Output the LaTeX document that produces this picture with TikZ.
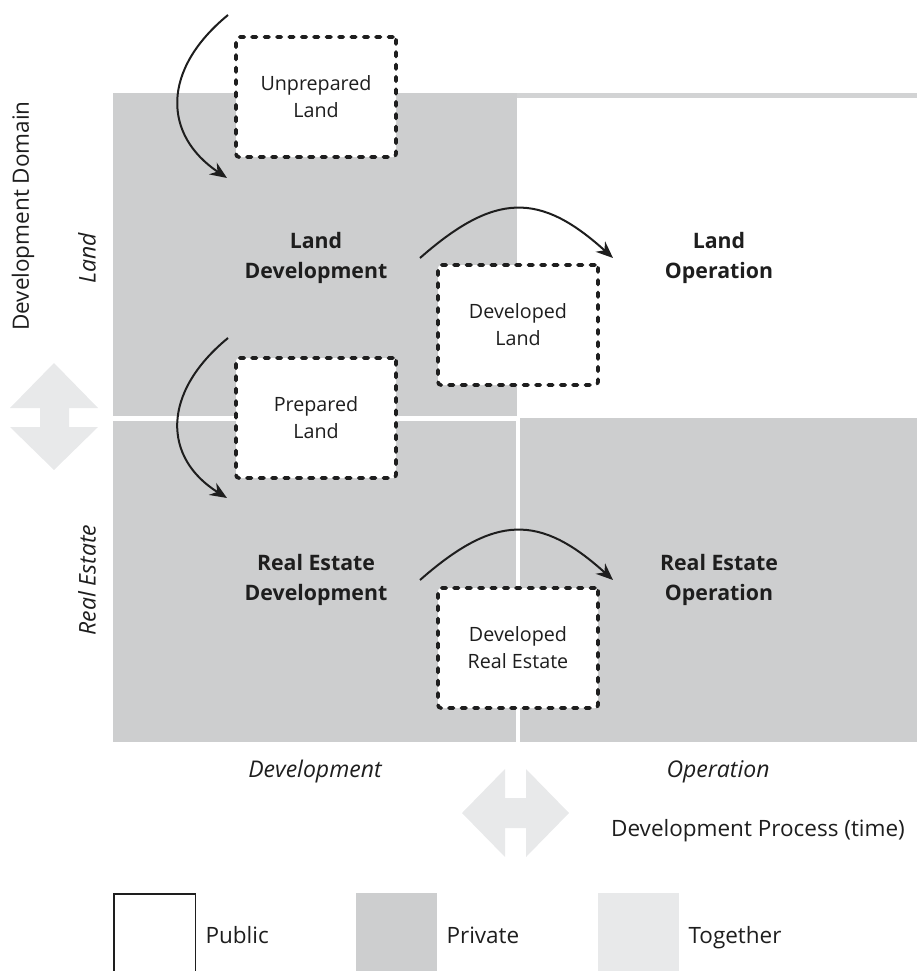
\documentclass[tikz,border=0pt]{standalone}
\usepackage{fontspec}
\setmainfont{Open Sans}
\usetikzlibrary{arrows.meta}
\definecolor{priv}{HTML}{CDCECF}
\definecolor{tog}{HTML}{E8E9EA}
\definecolor{ink}{HTML}{1E1E1E}
\begin{document}
\begin{tikzpicture}[x=1pt,y=-1pt,
  dbox/.style={draw=ink,fill=white,line width=3.6pt,dash pattern=on 4.6pt off 7.8pt,line cap=round,rounded corners=3pt,minimum width=160pt,minimum height=120pt,align=center,font=\fontsize{19.7}{27}\selectfont,text=ink},
  bold/.style={align=center,font=\fontsize{21.3}{30}\selectfont\bfseries,text=ink},
  ital/.style={font=\fontsize{23}{27}\selectfont\itshape,text=ink},
  plain/.style={font=\fontsize{22.5}{27}\selectfont,text=ink},
  flow/.style={draw=ink,line width=2pt,-{Stealth[length=17pt,width=14pt]}}]
\useasboundingbox (0,0) rectangle (917,971);
% quadrants
\fill[priv] (113,93) rectangle (517,416);
\fill[priv] (113,421) rectangle (516,742);
\fill[priv] (520,418) rectangle (917,742);
\fill[priv!90!white] (517,93) rectangle (917,98);
% together arrows
\fill[tog] (54,363) -- (98,408) -- (69,408) -- (69,427) -- (98,427) -- (54,470) -- (10,427) -- (40,427) -- (40,408) -- (10,408) -- cycle;
\fill[tog] (462,813) -- (505,769) -- (505,798) -- (526,798) -- (526,769) -- (569,813) -- (526,857) -- (526,828) -- (505,828) -- (505,857) -- cycle;
% dashed boxes
\node[dbox] (unp) at (316,97) {Unprepared\\Land};
\node[dbox] (devl) at (518,325) {Developed\\Land};
\node[dbox] (prep) at (316,418) {Prepared\\Land};
\node[dbox] (devre) at (518,648) {Developed\\Real Estate};
% bold labels
\node[bold] (ld) at (316,258) {Land\\Development};
\node[bold] (lo) at (719,258) {Land\\Operation};
\node[bold] (red) at (316,580) {Real Estate\\Development};
\node[bold] (reo) at (719,580) {Real Estate\\Operation};
% axis labels
\node[ital,rotate=90] (land) at (87,258) {Land};
\node[ital,rotate=90] (re) at (87,580) {Real Estate};
\node[plain,rotate=90] (dd) at (23,216) {Development Domain};
\node[ital] (dev) at (315,772) {Development};
\node[ital] (op) at (718,772) {Operation};
\node[plain] (dp) at (758,831) {Development Process (time)};
% curved arrows
\coordinate (a1s) at (228,15); \coordinate (a1e) at (227,178);
\coordinate (a2s) at (228,338); \coordinate (a2e) at (227,498);
\coordinate (a3s) at (420,258); \coordinate (a3e) at (613,258);
\coordinate (a4s) at (420,580); \coordinate (a4e) at (613,580);
\draw[flow] (a1s) .. controls (161,70) and (163,135) .. (a1e);
\draw[flow] (a2s) .. controls (161,393) and (163,458) .. (a2e);
\draw[flow] (a3s) .. controls (495,192) and (540,192) .. (a3e);
\draw[flow] (a4s) .. controls (495,514) and (540,514) .. (a4e);
% legend
\draw[ink,line width=1.5pt] (113.75,975) -- (113.75,893.75) -- (195.25,893.75) -- (195.25,975);
\fill[priv] (356,893) rectangle (437,975);
\fill[tog] (598,893) rectangle (679,975);
\node[plain,anchor=base west] (pub) at (202,943) {Public};
\node[plain,anchor=base west] (pri) at (443,943) {Private};
\node[plain,anchor=base west] (tg) at (685,943) {Together};
\end{tikzpicture}
\end{document}
